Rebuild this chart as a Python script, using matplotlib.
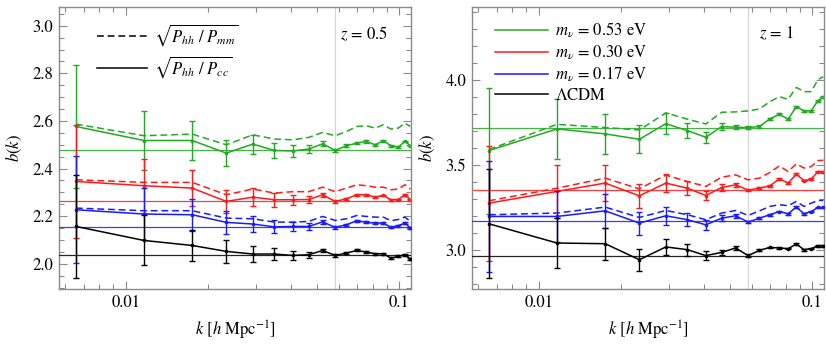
import matplotlib
matplotlib.use("Agg")
import matplotlib.pyplot as plt
from matplotlib.lines import Line2D
from matplotlib.ticker import FixedLocator, NullFormatter, MultipleLocator, LogLocator

plt.rcParams['font.family'] = ['STIXGeneral', 'DejaVu Serif']
plt.rcParams['mathtext.fontset'] = 'stix'

# ---------------- data ----------------
k = [0.00656, 0.01164, 0.01746, 0.02328, 0.0291, 0.03492, 0.04074, 0.04656, 0.05238,
     0.0582, 0.06402, 0.06984, 0.07566, 0.08148, 0.0873, 0.09312, 0.09894, 0.10476, 0.1096]
k_line = 0.0580

labels_mnu = [r'$m_\nu$ = 0.53 eV', r'$m_\nu$ = 0.30 eV', r'$m_\nu$ = 0.17 eV', r'$\Lambda$CDM']
colors = ['#22aa22', '#ff1a1a', '#1a1aff', '#000000']

# z = 0.5 panel
z05_green_cc = [2.577, 2.518, 2.518, 2.465, 2.503, 2.476, 2.474, 2.482, 2.504, 2.476, 2.496, 2.507, 2.514, 2.500, 2.517, 2.496, 2.490, 2.514, 2.497]
z05_green_mm = [2.587, 2.538, 2.545, 2.500, 2.542, 2.524, 2.521, 2.531, 2.552, 2.538, 2.556, 2.577, 2.580, 2.570, 2.584, 2.566, 2.570, 2.591, 2.577]
z05_red_cc = [2.346, 2.328, 2.318, 2.262, 2.280, 2.269, 2.269, 2.270, 2.290, 2.262, 2.273, 2.290, 2.290, 2.280, 2.287, 2.269, 2.270, 2.290, 2.270]
z05_red_mm = [2.353, 2.342, 2.342, 2.290, 2.314, 2.297, 2.303, 2.303, 2.322, 2.303, 2.318, 2.332, 2.328, 2.322, 2.322, 2.311, 2.314, 2.332, 2.314]
z05_blue_cc = [2.227, 2.209, 2.206, 2.174, 2.167, 2.155, 2.157, 2.157, 2.176, 2.153, 2.164, 2.181, 2.174, 2.171, 2.171, 2.153, 2.160, 2.171, 2.150]
z05_blue_mm = [2.234, 2.223, 2.223, 2.192, 2.189, 2.175, 2.175, 2.178, 2.199, 2.182, 2.189, 2.203, 2.199, 2.196, 2.196, 2.181, 2.186, 2.196, 2.178]
z05_black_cc = [2.157, 2.098, 2.077, 2.052, 2.041, 2.041, 2.035, 2.038, 2.056, 2.035, 2.045, 2.056, 2.049, 2.042, 2.042, 2.024, 2.031, 2.038, 2.020]
z05_green_err = [0.260, 0.124, 0.080, 0.056, 0.040, 0.032, 0.024, 0.016, 0.010, 0.007, 0.006, 0.005, 0.005, 0.005, 0.004, 0.004, 0.004, 0.004, 0.004]
z05_red_err = [0.238, 0.113, 0.074, 0.049, 0.037, 0.029, 0.021, 0.014, 0.009, 0.006, 0.005, 0.005, 0.005, 0.004, 0.004, 0.004, 0.004, 0.004, 0.004]
z05_blue_err = [0.225, 0.108, 0.068, 0.049, 0.035, 0.027, 0.020, 0.013, 0.009, 0.006, 0.005, 0.005, 0.004, 0.004, 0.004, 0.004, 0.004, 0.004, 0.004]
z05_black_err = [0.217, 0.105, 0.065, 0.047, 0.035, 0.026, 0.019, 0.013, 0.008, 0.006, 0.005, 0.004, 0.004, 0.004, 0.004, 0.004, 0.004, 0.004, 0.004]
z05_const = [2.476, 2.262, 2.153, 2.036]

# z = 1 panel
z1_green_cc = [3.584, 3.711, 3.682, 3.650, 3.742, 3.701, 3.662, 3.725, 3.721, 3.719, 3.725, 3.770, 3.797, 3.768, 3.842, 3.817, 3.817, 3.877, 3.897]
z1_green_mm = [3.590, 3.738, 3.719, 3.705, 3.805, 3.768, 3.740, 3.809, 3.811, 3.817, 3.828, 3.871, 3.900, 3.885, 3.955, 3.930, 3.930, 4.000, 4.018]
z1_red_cc = [3.275, 3.344, 3.393, 3.318, 3.393, 3.363, 3.320, 3.367, 3.383, 3.352, 3.363, 3.377, 3.418, 3.393, 3.445, 3.408, 3.416, 3.461, 3.458]
z1_red_mm = [3.289, 3.363, 3.422, 3.359, 3.440, 3.402, 3.373, 3.428, 3.441, 3.412, 3.422, 3.455, 3.494, 3.461, 3.506, 3.481, 3.490, 3.525, 3.527]
z1_blue_cc = [3.197, 3.197, 3.230, 3.158, 3.201, 3.178, 3.148, 3.187, 3.201, 3.164, 3.187, 3.207, 3.226, 3.213, 3.252, 3.213, 3.226, 3.250, 3.250]
z1_blue_mm = [3.207, 3.217, 3.252, 3.191, 3.232, 3.207, 3.178, 3.217, 3.232, 3.203, 3.230, 3.256, 3.266, 3.260, 3.285, 3.256, 3.275, 3.291, 3.291]
z1_black_cc = [3.154, 3.041, 3.037, 2.943, 3.018, 3.002, 2.967, 2.986, 3.012, 2.967, 2.998, 3.015, 3.012, 3.008, 3.035, 3.002, 3.008, 3.025, 3.025]
z1_green_err = [0.370, 0.178, 0.118, 0.083, 0.060, 0.045, 0.032, 0.020, 0.012, 0.008, 0.007, 0.006, 0.006, 0.006, 0.006, 0.006, 0.006, 0.006, 0.006]
z1_red_err = [0.338, 0.157, 0.107, 0.072, 0.054, 0.041, 0.029, 0.019, 0.011, 0.007, 0.006, 0.006, 0.006, 0.005, 0.005, 0.005, 0.005, 0.005, 0.005]
z1_blue_err = [0.327, 0.150, 0.100, 0.068, 0.052, 0.039, 0.028, 0.018, 0.011, 0.007, 0.006, 0.006, 0.005, 0.005, 0.005, 0.005, 0.005, 0.005, 0.005]
z1_black_err = [0.320, 0.147, 0.095, 0.065, 0.047, 0.036, 0.026, 0.016, 0.010, 0.007, 0.005, 0.005, 0.005, 0.005, 0.005, 0.005, 0.005, 0.005, 0.005]
z1_const = [3.719, 3.352, 3.168, 2.967]

panels = [
    dict(cc=[z05_green_cc, z05_red_cc, z05_blue_cc, z05_black_cc],
         mm=[z05_green_mm, z05_red_mm, z05_blue_mm, None],
         err=[z05_green_err, z05_red_err, z05_blue_err, z05_black_err],
         const=z05_const, ylim=(1.894, 3.079), major=0.2, minor=0.05,
         ztext=r'$z$ = 0.5'),
    dict(cc=[z1_green_cc, z1_red_cc, z1_blue_cc, z1_black_cc],
         mm=[z1_green_mm, z1_red_mm, z1_blue_mm, None],
         err=[z1_green_err, z1_red_err, z1_blue_err, z1_black_err],
         const=z1_const, ylim=(2.771, 4.427), major=0.5, minor=0.1,
         ztext=r'$z$ = 1'),
]

W, H = 826, 351
fig = plt.figure(figsize=(W / 100, H / 100), dpi=100)
ax_rects = [(59, 7, 352, 282), (472, 7, 352, 282)]
frame_col = '#8a8a8a'

for i, (p, r) in enumerate(zip(panels, ax_rects)):
    x0, y0, w, h = r
    ax = fig.add_axes([x0 / W, 1 - (y0 + h) / H, w / W, h / H])
    ax.set_xscale('log')
    ax.set_xlim(0.00569, 0.1102)
    ax.set_ylim(*p['ylim'])
    ax.axvline(k_line, color='#d4d4d4', lw=0.8, zorder=0)
    for j in range(4):
        c = colors[j]
        ax.axhline(p['const'][j], color=c, lw=0.9, zorder=1 + j, alpha=0.85)
        if p['mm'][j] is not None:
            ax.plot(k, p['mm'][j], color=c, lw=1.1, ls=(0, (4.5, 2.5)), zorder=1 + j)
        ax.errorbar(k, p['cc'][j], yerr=p['err'][j], color=c, lw=1.1, marker='o', ms=1.6,
                    elinewidth=1.0, capsize=2.2, capthick=1.0, zorder=1 + j)
    # ticks
    ax.yaxis.set_major_locator(MultipleLocator(p['major']))
    ax.yaxis.set_minor_locator(MultipleLocator(p['minor']))
    ax.xaxis.set_major_locator(FixedLocator([0.01, 0.1]))
    ax.xaxis.set_major_formatter(matplotlib.ticker.FixedFormatter(['0.01', '0.1']))
    ax.xaxis.set_minor_locator(LogLocator(base=10, subs=range(2, 10)))
    ax.xaxis.set_minor_formatter(NullFormatter())
    ax.tick_params(which='both', direction='in', top=True, right=True, color=frame_col,
                   labelsize=12, width=0.8)
    ax.tick_params(which='major', length=6)
    ax.tick_params(which='minor', length=3.5)
    ax.tick_params(axis='x', pad=4)
    ax.tick_params(axis='y', pad=4)
    for s in ax.spines.values():
        s.set_color(frame_col)
        s.set_linewidth(1.0)
    ax.set_ylabel(r'$b(k)$', fontsize=12)
    ax.yaxis.set_label_coords(-0.10, 0.5)
    ax.set_xlabel(r'$k$ [$h$ Mpc$^{-1}$]', fontsize=12)
    ax.xaxis.set_label_coords(0.5, -0.105)
    ax.text(0.865, 0.905, p['ztext'], transform=ax.transAxes, fontsize=12,
            ha='center', va='center')
    if i == 0:
        handles = [Line2D([], [], color='k', lw=1.1, ls=(0, (4.5, 2.5))),
                   Line2D([], [], color='k', lw=1.1)]
        labs = [r'$\sqrt{P_{hh}\ /\ P_{mm}}$', r'$\sqrt{P_{hh}\ /\ P_{cc}}$']
        ax.legend(handles, labs, loc='upper left', bbox_to_anchor=(0.108, 0.947),
                  frameon=False, fontsize=12, handlelength=3.0, handletextpad=0.4,
                  borderpad=0, borderaxespad=0, labelspacing=0.4)
    else:
        handles = [Line2D([], [], color=c, lw=1.1) for c in colors]
        ax.legend(handles, labels_mnu, loc='upper left', bbox_to_anchor=(0.065, 0.951),
                  frameon=False, fontsize=12, handlelength=3.2, handletextpad=0.4,
                  borderpad=0, borderaxespad=0, labelspacing=0.22)

fig.savefig('out.png', dpi=100)
